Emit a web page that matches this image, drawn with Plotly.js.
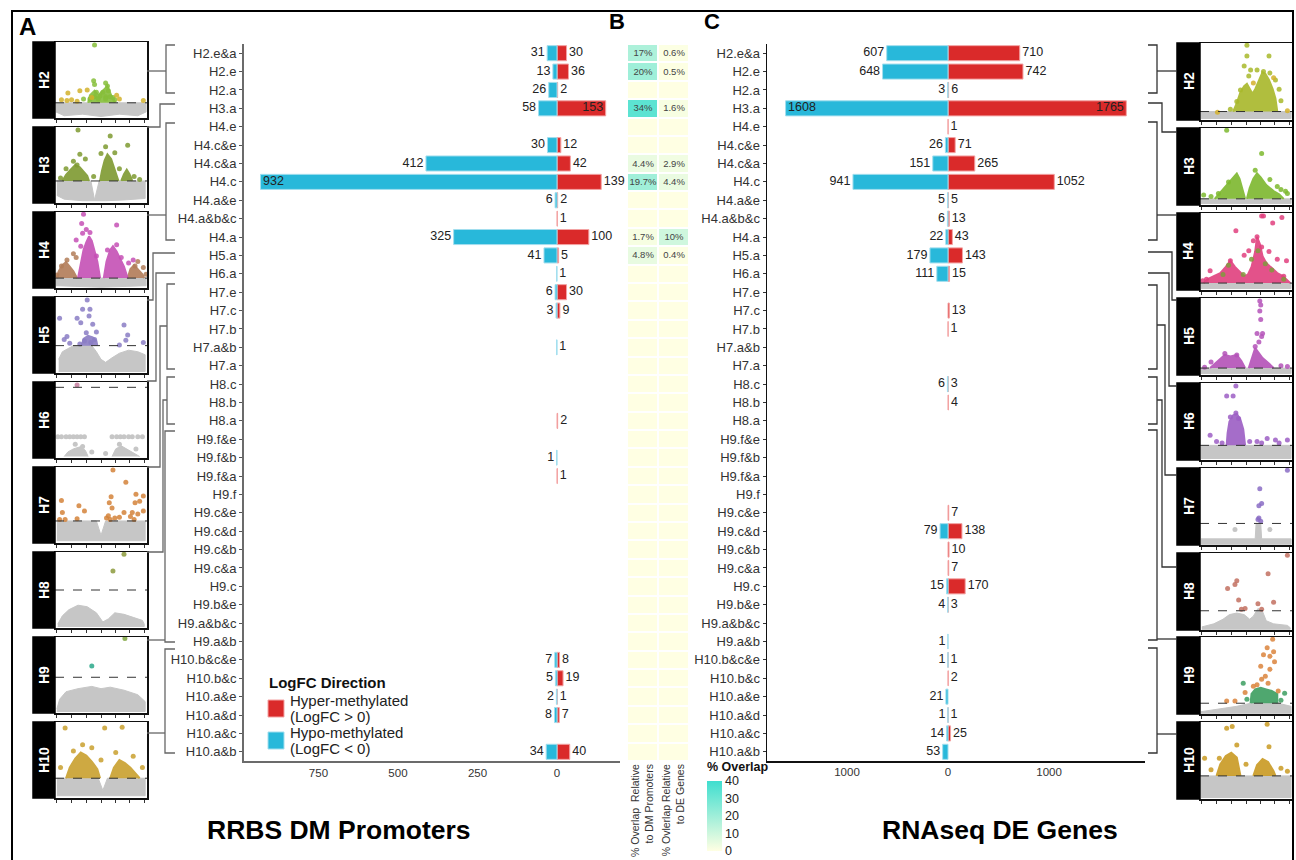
<!DOCTYPE html>
<html><head><meta charset="utf-8">
<script src="https://cdn.plot.ly/plotly-3.0.1.min.js"></script>
<style>html,body{margin:0;padding:0;background:#fff}#chart{width:1296px;height:860px}</style>
</head><body><div id="chart"></div>
<script>
// ---------------- DATA ----------------
const categories = ['H2.e&a','H2.e','H2.a','H3.a','H4.e','H4.c&e','H4.c&a','H4.c','H4.a&e','H4.a&b&c','H4.a',
  'H5.a','H6.a','H7.e','H7.c','H7.b','H7.a&b','H7.a','H8.c','H8.b','H8.a',
  'H9.f&e','H9.f&b','H9.f&a','H9.f','H9.c&e','H9.c&d','H9.c&b','H9.c&a','H9.c','H9.b&e','H9.a&b&c','H9.a&b',
  'H10.b&c&e','H10.b&c','H10.a&e','H10.a&d','H10.a&c','H10.a&b'];
// RRBS DM promoters (counts)
const dmHypo  = [31,13,26,58,0,30,412,932,6,0,325,41,1,6,3,0,1,0,0,0,0,0,1,0,0,0,0,0,0,0,0,0,0,7,5,2,8,0,34];
const dmHyper = [30,36,2,153,0,12,42,139,2,1,100,5,0,30,9,0,0,0,0,0,2,0,0,1,0,0,0,0,0,0,0,0,0,8,19,1,7,0,40];
// RNAseq DE genes (counts)
const deHypo  = [607,648,3,1608,0,26,151,941,5,6,22,179,111,0,0,0,0,0,6,0,0,0,0,0,0,0,79,0,0,15,4,0,1,1,0,21,1,14,53];
const deHyper = [710,742,6,1765,1,71,265,1052,5,13,43,143,15,0,13,1,0,0,3,4,0,0,0,0,0,7,138,10,7,170,3,0,0,1,2,0,1,25,0];
// % overlap
const overlapDM = [17,20,0,34,0,0,4.4,19.7,0,0,1.7,4.8,0,0,0,0,0,0,0,0,0,0,0,0,0,0,0,0,0,0,0,0,0,0,0,0,0,0,0];
const overlapDE = [0.6,0.5,0,1.6,0,0,2.9,4.4,0,0,10,0.4,0,0,0,0,0,0,0,0,0,0,0,0,0,0,0,0,0,0,0,0,0,0,0,0,0,0,0];
const heatColLabels = ['% Overlap  Relative<br>to DM Promoters','% Ovlerlap Relative<br>to DE Genes'];
const dmTicks = [-750,-500,-250,0];
const dmTickText = ['750','500','250','0'];
const deTicks = [-1000,0,1000];
const deTickText = ['1000','0','1000'];
const overlapTicks = [0,10,20,30,40];
const colorbarTitle = '% Overlap';
const legendTitle = 'LogFC Direction';
const legendHyper = ['Hyper-methylated','(LogFC &gt; 0)'];
const legendHypo  = ['Hypo-methylated','(LogFC &lt; 0)'];
const volcanoLabels = ['H2','H3','H4','H5','H6','H7','H8','H9','H10'];
const thrLeft  = [20,29,13,36,93,29,50,47,26];
const thrRight = [11,8,9,9,19,28,25,14,30];

// Volcano sketches (normalised 0-100 coords)
const L2_gray = [[1,20],[99,20],[99,8],[90,3],[70,5],[50,2],[30,5],[10,3],[1,8]];
const L2_mass = [[36,20],[38,30],[43,36],[47,30],[52,36],[57,42],[61,30],[65,22],[65,20]];
const L2_ptsA = [[43,96],[42,49],[43,44],[55,46],[57,42],[45,34],[52,34],[58,36],[49,29],[43,28],[55,28],[60,28],[47,25],[63,27],[38,25],[55,25],[65,24],[31,25]];
const L2_ptsB = [[14,33],[27,36],[35,37],[40,27],[7,24],[18,24],[96,23],[70,25],[67,30],[13,23],[24,22]];
const L3_gray = [[2,29],[39,29],[43,4],[48,29],[98,29],[98,6],[75,4],[55,3],[30,3],[10,5],[2,10]];
const L3_mass1 = [[8,29],[12,37],[17,44],[22,50],[27,47],[31,42],[35,36],[37,29]];
const L3_mass2 = [[49,29],[51,42],[54,56],[57,64],[61,58],[64,47],[67,36],[69,29]];
const L3_mass3 = [[72,29],[75,38],[78,44],[81,38],[84,29]];
const L3_pts = [[25,96],[60,88],[79,76],[27,64],[55,74],[65,66],[20,55],[33,58],[12,45],[6,33],[42,35],[70,45],[86,35],[92,31],[50,65],[24,50]];
const L4_gray = [[1,13],[99,13],[99,3],[50,1],[1,3]];
const L4_mass1 = [[25,13],[28,30],[31,50],[34,60],[37,68],[40,62],[43,50],[46,35],[49,13]];
const L4_mass2 = [[53,13],[56,35],[60,50],[63,55],[67,48],[71,38],[75,28],[79,13]];
const L4_massB1 = [[2,13],[4,22],[8,30],[12,34],[16,28],[20,22],[24,13]];
const L4_massB2 = [[79,13],[82,25],[86,30],[90,24],[95,18],[97,13]];
const L4_ptsA = [[31,97],[29,85],[67,83],[34,77],[23,63],[67,57],[85,37],[30,72],[38,73],[28,55],[57,50],[72,40],[80,33],[45,42]];
const L4_ptsB = [[13,37],[96,27],[7,29],[87,29],[23,40],[20,45],[90,35],[2,17],[99,18]];
const L5_gray = [[4,18],[8,28],[14,32],[20,36],[40,36],[45,28],[50,18],[55,14],[62,20],[70,26],[80,30],[90,28],[98,24],[98,2],[4,2]];
const L5_mass = [[29,36],[31,45],[36,49],[41,47],[45,42],[46,36]];
const L5_pts = [[35,96],[30,84],[38,84],[24,72],[37,75],[28,66],[41,64],[5,72],[34,53],[45,54],[13,48],[10,44],[16,39],[75,63],[79,50],[77,43],[70,37],[96,40],[32,42],[39,40],[43,44],[27,38]];
const L6_grayPts = [[3,28],[7,28],[12,28],[16,28],[20,28],[24,28],[28,28],[32,28],[62,28],[67,28],[71,28],[75,28],[80,28],[84,28],[90,28],[95,28],[30,15],[40,8],[70,18],[88,12],[22,18],[55,6]];
const L6_gray1 = [[10,2],[14,8],[20,12],[28,15],[33,10],[36,2]];
const L6_gray2 = [[62,2],[66,12],[72,16],[80,10],[86,6],[92,2]];
const L6_pts = [[24,96]];
const L7_gray = [[2,29],[45,29],[50,10],[55,29],[98,29],[98,3],[2,3]];
const L7_pts = [[63,96],[77,80],[88,64],[96,62],[61,61],[92,55],[7,56],[26,49],[59,53],[87,53],[32,42],[62,46],[75,40],[96,42],[8,40],[56,33],[65,33],[70,34],[82,35],[86,31],[5,31],[11,31],[24,32],[60,31],[58,36],[90,38],[84,40]];
const L8_gray = [[3,5],[8,16],[15,24],[25,30],[35,28],[45,20],[52,8],[58,12],[65,20],[75,18],[85,14],[95,10],[97,5],[97,2],[3,2]];
const L8_pts = [[75,97],[63,75]];
const L9_gray = [[2,5],[5,18],[12,28],[25,32],[40,35],[50,32],[60,34],[75,30],[90,24],[98,15],[98,2],[2,2]];
const L9_ptsA = [[40,62]];
const L9_ptsB = [[76,98]];
const L10_gray = [[2,26],[47,26],[52,10],[57,26],[98,26],[98,3],[2,3]];
const L10_mass1 = [[12,26],[16,40],[22,52],[28,60],[34,56],[40,48],[46,38],[49,26]];
const L10_mass2 = [[60,26],[64,40],[70,50],[76,46],[82,40],[88,32],[92,26]];
const L10_pts = [[54,92],[11,92],[73,93],[30,70],[40,66],[20,62],[66,60],[85,55],[6,40],[95,40],[50,50]];

const R2_gray = [[1,11],[99,11],[99,2],[1,2]];
const R2_mass = [[36,11],[40,22],[44,36],[48,44],[51,47],[54,40],[57,34],[60,40],[64,52],[68,62],[71,60],[75,52],[79,40],[82,28],[84,11]];
const R2_ptsA = [[51,97],[51,83],[75,83],[48,70],[55,65],[62,65],[69,63],[76,61],[82,52],[53,57],[44,39],[40,24],[86,40],[88,25],[33,14]];
const R2_ptsB = [[19,10],[95,12],[80,55],[58,48]];
const R3_gray = [[1,8],[99,8],[99,2],[1,2]];
const R3_mass1 = [[16,8],[22,16],[28,24],[33,32],[38,38],[40,41],[43,34],[46,22],[49,8]];
const R3_mass2 = [[51,8],[54,22],[58,34],[62,41],[66,36],[72,26],[80,18],[86,14],[91,8]];
const R3_pts = [[29,97],[67,67],[4,13],[20,15],[95,15],[84,24],[76,33],[12,11],[31,30],[60,45],[93,18],[88,20]];
const R4_gray = [[1,9],[99,9],[99,2],[1,2]];
const R4_mass = [[4,9],[8,14],[15,18],[22,22],[28,30],[33,38],[38,30],[44,22],[48,18],[52,20],[56,30],[60,50],[62,69],[65,60],[68,44],[72,35],[78,28],[84,22],[90,18],[96,12],[98,9]];
const R4_ptsA = [[67,96],[69,96],[89,94],[79,87],[39,77],[62,69],[67,56],[53,51],[33,38],[94,38],[11,25],[7,14],[91,18],[84,40],[75,50],[48,45],[58,64],[3,12]];
const R4_ptsB = [[31,32],[63,51],[71,34],[91,14],[47,20],[25,20],[78,26],[56,40]];
const R5_gray = [[1,9],[99,9],[99,2],[1,2]];
const R5_mass1 = [[11,9],[16,14],[22,20],[27,26],[33,24],[40,26],[45,18],[49,9]];
const R5_mass2 = [[53,9],[56,20],[60,35],[63,30],[68,22],[74,16],[80,9]];
const R5_pts = [[65,96],[66,91],[65,83],[66,72],[62,54],[68,54],[64,43],[60,37],[67,50],[27,28],[40,26],[12,17],[95,11],[5,10],[88,12]];
const R6_gray = [[1,19],[99,19],[99,2],[1,2]];
const R6_mass = [[29,19],[30,35],[32,50],[36,58],[40,60],[44,52],[47,40],[49,19]];
const R6_pts = [[39,61],[33,56],[42,54],[11,32],[18,24],[73,28],[82,26],[95,26],[67,22],[62,24],[29,83],[36,83],[39,96],[24,22],[86,22],[54,24]];
const R7_gray = [[1,8],[60,8],[61,28],[66,28],[67,8],[99,8],[99,1],[1,1]];
const R7_grayPts = [[38,20],[76,20]];
const R7_pts = [[65,73],[67,54],[64,51],[64,35],[63,33],[95,97],[66,31]];
const R8_gray = [[2,4],[15,8],[25,14],[32,20],[40,22],[48,20],[54,14],[58,18],[63,28],[68,24],[72,12],[80,8],[95,6],[98,3],[98,1],[2,1]];
const R8_pts = [[95,97],[74,73],[40,64],[38,59],[30,54],[80,36],[42,39],[63,34],[49,28],[67,27],[45,27]];
const R9_gray = [[1,3],[20,6],[40,10],[55,14],[85,14],[99,10],[99,1],[1,1]];
const R9_massB = [[55,14],[56,26],[60,32],[66,34],[72,32],[78,30],[84,26],[84,14]];
const R9_ptsA = [[79,97],[73,86],[80,81],[69,77],[76,75],[81,68],[66,62],[76,58],[71,49],[67,45],[58,36],[49,28],[29,17],[38,17],[62,38],[74,40],[85,30]];
const R9_ptsB = [[47,40],[92,27],[51,19],[88,18]];
const R10_gray = [[1,30],[99,30],[99,2],[1,2]];
const R10_mass1 = [[18,30],[22,45],[28,56],[34,60],[40,54],[44,30]];
const R10_mass2 = [[58,30],[62,44],[68,52],[74,48],[80,36],[82,30]];
const R10_pts = [[29,92],[35,94],[73,97],[40,70],[75,68],[5,53],[21,53],[50,45],[88,40],[12,38],[95,36]];

// ---------------- STYLE ----------------
const W=1296, H=860;
const px = x => x/W, py = y => 1 - y/H;
const RED='#DA2A2A', BLUE='#28B8DA', RED_EDGE='#F3A3A3', BLUE_EDGE='#A2DEEE';
const GRAY='#C6C6C6';
const FONT='Liberation Sans, Arial, Helvetica, sans-serif';
const TS='\u2009';
const A_hypoInside=['H4.c'], A_hyperInside=['H3.a'], A_hypoRight=['H6.a','H7.a&b'];
const C_hypoInside=['H3.a'], C_hyperInside=['H3.a'];

const leftPanels = [
  {gray:[L2_gray], masses:[[L2_mass,'#86BE3A']], pts:[[L2_ptsA,'#86BE3A'],[L2_ptsB,'#D2B22C']]},
  {gray:[L3_gray], masses:[[L3_mass1,'#7E9A30'],[L3_mass2,'#7E9A30'],[L3_mass3,'#7E9A30']], pts:[[L3_pts,'#7E9A30']]},
  {gray:[L4_gray], masses:[[L4_massB1,'#B27C58'],[L4_massB2,'#B27C58'],[L4_mass1,'#C550B5'],[L4_mass2,'#C550B5']], pts:[[L4_ptsB,'#B27C58'],[L4_ptsA,'#C550B5']]},
  {gray:[L5_gray], masses:[[L5_mass,'#8A7CC4']], pts:[[L5_pts,'#8A7CC4']]},
  {gray:[L6_gray1,L6_gray2], grayPts:L6_grayPts, masses:[], pts:[[L6_pts,'#C47C9E']]},
  {gray:[L7_gray], masses:[], pts:[[L7_pts,'#D3833A']]},
  {gray:[L8_gray], masses:[], pts:[[L8_pts,'#8C9A3C']]},
  {gray:[L9_gray], masses:[], pts:[[L9_ptsA,'#2AA88A'],[L9_ptsB,'#7FA640']]},
  {gray:[L10_gray], masses:[[L10_mass1,'#C9A02E'],[L10_mass2,'#C9A02E']], pts:[[L10_pts,'#C9A02E']]}
];
const rightPanels = [
  {gray:[R2_gray], masses:[[R2_mass,'#A8B82A']], pts:[[R2_ptsA,'#A8B82A'],[R2_ptsB,'#D4B02A']]},
  {gray:[R3_gray], masses:[[R3_mass1,'#7DB82E'],[R3_mass2,'#7DB82E']], pts:[[R3_pts,'#7DB82E']]},
  {gray:[R4_gray], masses:[[R4_mass,'#E0407E']], pts:[[R4_ptsA,'#E0407E'],[R4_ptsB,'#7F9A3C']]},
  {gray:[R5_gray], masses:[[R5_mass1,'#B452B8'],[R5_mass2,'#B452B8']], pts:[[R5_pts,'#B452B8']]},
  {gray:[R6_gray], masses:[[R6_mass,'#9C5EC4']], pts:[[R6_pts,'#9C5EC4']]},
  {gray:[R7_gray], grayPts:R7_grayPts, masses:[], pts:[[R7_pts,'#8A6CC4']]},
  {gray:[R8_gray], masses:[], pts:[[R8_pts,'#C27060']]},
  {gray:[R9_gray], masses:[[R9_massB,'#3C9E60']], pts:[[R9_ptsA,'#DA843C'],[R9_ptsB,'#3C9E60']]},
  {gray:[R10_gray], masses:[[R10_mass1,'#C99A22'],[R10_mass2,'#C99A22']], pts:[[R10_pts,'#C99A22']]}
];
const leftTops  = [42,127,212,297,382,467,552,637,722];
const rightTops = [43,128,213,298,383,468,553,637,722];

// ---------------- BUILD ----------------
const traces = [];
const layout = {
  width:W, height:H, margin:{l:0,r:0,t:0,b:0}, paper_bgcolor:'#fff', plot_bgcolor:'rgba(0,0,0,0)',
  font:{family:FONT, color:'#222'}, barmode:'overlay', showlegend:false,
  shapes:[], annotations:[]
};

function barPair(hypo, hyper, xa, ya) {
  traces.push({type:'bar', orientation:'h', y:categories, x:hyper.map(v=>v>0?v:null), width:0.82,
    marker:{color:RED, line:{color:RED_EDGE, width:1}}, xaxis:xa, yaxis:ya, hoverinfo:'skip', showlegend:false});
  traces.push({type:'bar', orientation:'h', y:categories, x:hypo.map(v=>v>0?-v:null), width:0.82,
    marker:{color:BLUE, line:{color:BLUE_EDGE, width:1}}, xaxis:xa, yaxis:ya, hoverinfo:'skip', showlegend:false});
}
function labels(hypo, hyper, xa, ya, hypoIn, hyperIn, hypoRight) {
  const hpos = categories.map(c => hypoIn.includes(c)||hypoRight.includes(c) ? 'middle right':'middle left');
  traces.push({type:'scatter', mode:'text', y:categories, x:hypo.map(v=>-v),
    text:hypo.map((v,i)=>v>0?(hpos[i]==='middle left'?String(v)+TS:TS+String(v)):''),
    textposition:hpos, textfont:{size:12.5, color:'#222'}, xaxis:xa, yaxis:ya, hoverinfo:'skip', showlegend:false, cliponaxis:false});
  const rpos = categories.map(c => hyperIn.includes(c) ? 'middle left':'middle right');
  traces.push({type:'scatter', mode:'text', y:categories, x:hyper,
    text:hyper.map((v,i)=>v>0?(rpos[i]==='middle right'?TS+String(v):String(v)+TS):''),
    textposition:rpos, textfont:{size:12.5, color:'#222'}, xaxis:xa, yaxis:ya, hoverinfo:'skip', showlegend:false, cliponaxis:false});
}
barPair(dmHypo, dmHyper, 'x', 'y');
barPair(deHypo, deHyper, 'x3', 'y3');
labels(dmHypo, dmHyper, 'x', 'y', A_hypoInside, A_hyperInside, A_hypoRight);
labels(deHypo, deHyper, 'x3', 'y3', C_hypoInside, C_hyperInside, []);

// heatmap
traces.push({type:'heatmap', x:[0,1], y:categories,
  z:categories.map((c,i)=>[overlapDM[i], overlapDE[i]]),
  text:categories.map((c,i)=>[overlapDM[i]>0?overlapDM[i]+'%':'', overlapDE[i]>0?overlapDE[i]+'%':'']),
  texttemplate:'%{text}', textfont:{size:9.5, color:'#444'},
  zmin:0, zmax:40, colorscale:[[0,'#FFFFE3'],[1,'#3FDECF']], xgap:2, ygap:2,
  xaxis:'x2', yaxis:'y2', hoverinfo:'skip', showlegend:false,
  colorbar:{thickness:15, thicknessmode:'pixels', len:70, lenmode:'pixels',
    x:px(707), xanchor:'left', y:py(851), yanchor:'bottom', xpad:0, ypad:0,
    outlinewidth:0, ticks:'', tickmode:'array', tickvals:overlapTicks, ticklabeloverflow:'allow',
    tickfont:{size:12.5, color:'#222'}}});

const yDom = [py(761), py(44)];
const catAxis = extra => Object.assign({domain:yDom, type:'category', categoryorder:'array', categoryarray:categories,
  range:[38.5,-0.5], showgrid:false, zeroline:false, automargin:false, fixedrange:true}, extra);
layout.xaxis = {domain:[px(244),px(620)], range:[-984,198], anchor:'y', showline:true, linecolor:'#6b6b6b', linewidth:2,
  showgrid:false, zeroline:false, tickvals:dmTicks, ticktext:dmTickText, ticks:'', tickfont:{size:11.5,color:'#333'}, automargin:false, fixedrange:true};
layout.yaxis = catAxis({anchor:'x', showline:true, linecolor:'#6b6b6b', linewidth:2, ticks:'outside', ticklen:3, tickcolor:'#555', tickfont:{size:13,color:'#333'}});
layout.xaxis2 = {domain:[px(627),px(689)], range:[-0.5,1.5], anchor:'y2', showline:false, showgrid:false, zeroline:false,
  tickvals:[0,1], ticktext:heatColLabels, tickangle:-90, ticks:'', tickfont:{size:10.5,color:'#333'}, automargin:false, fixedrange:true, ticklabeloverflow:'allow'};
layout.yaxis2 = catAxis({anchor:'x2', showline:false, ticks:'', showticklabels:false});
layout.xaxis3 = {domain:[px(767),px(1145)], range:[-1792,1950], anchor:'y3', showline:true, linecolor:'#111', linewidth:1.5,
  showgrid:false, zeroline:false, tickvals:deTicks, ticktext:deTickText, ticks:'', tickfont:{size:11.5,color:'#333'}, automargin:false, fixedrange:true};
layout.yaxis3 = catAxis({anchor:'x3', showline:true, linecolor:'#111', linewidth:1.5, ticks:'outside', ticklen:3, tickcolor:'#333', tickfont:{size:13,color:'#333'}});

// volcano panels
function volcano(k, p, thr, x0, x1, top, h, stripX0) {
  const n = 4 + k, xa = 'x'+n, ya = 'y'+n;
  const common = {xaxis:xa, yaxis:ya, hoverinfo:'skip', showlegend:false};
  p.gray.forEach(g => traces.push(Object.assign({type:'scatter', mode:'lines', x:g.map(q=>q[0]), y:g.map(q=>q[1]),
    fill:'toself', fillcolor:GRAY, line:{color:GRAY, width:1}}, common)));
  if (p.grayPts) traces.push(Object.assign({type:'scatter', mode:'markers', x:p.grayPts.map(q=>q[0]), y:p.grayPts.map(q=>q[1]),
    marker:{size:5, color:GRAY}}, common));
  p.masses.forEach(m => traces.push(Object.assign({type:'scatter', mode:'lines', x:m[0].map(q=>q[0]), y:m[0].map(q=>q[1]),
    fill:'toself', fillcolor:m[1], line:{color:m[1], width:2}, opacity:0.9}, common)));
  p.pts.forEach(m => traces.push(Object.assign({type:'scatter', mode:'markers', x:m[0].map(q=>q[0]), y:m[0].map(q=>q[1]),
    marker:{size:5, color:m[1], opacity:0.85}}, common)));
  traces.push(Object.assign({type:'scatter', mode:'lines', x:[0,100], y:[thr,thr], line:{color:'#333', width:1, dash:'dash'}}, common));
  layout['xaxis'+n] = {domain:[px(x0),px(x1)], range:[0,100], anchor:ya, showline:true, mirror:true, linecolor:'#111', linewidth:1.5,
    showgrid:false, zeroline:false, ticks:'outside', ticklen:3, tickcolor:'#333', tickvals:[2,18,34,50,66,81,97], showticklabels:false, automargin:false, fixedrange:true};
  layout['yaxis'+n] = {domain:[py(top+h),py(top)], range:[0,100], anchor:xa, showline:true, mirror:true, linecolor:'#111', linewidth:1.5,
    showgrid:false, zeroline:false, ticks:'', showticklabels:false, automargin:false, fixedrange:true};
  layout.shapes.push({type:'rect', xref:'paper', yref:'paper', x0:px(stripX0), x1:px(x0), y0:py(top), y1:py(top+h),
    fillcolor:'#000', line:{color:'#000', width:1.5}});
  layout.annotations.push({xref:'paper', yref:'paper', x:px((stripX0+x0)/2), y:py(top+h/2), text:'<b>'+volcanoLabels[k%9]+'</b>',
    textangle:-90, showarrow:false, font:{size:14, color:'#fff'}, xanchor:'center', yanchor:'middle'});
}
leftPanels.forEach((p,i)=>volcano(i, p, thrLeft[i], 55, 147, leftTops[i], 76, 33));
rightPanels.forEach((p,i)=>volcano(9+i, p, thrRight[i], 1200, 1292, rightTops[i], 77, 1177));

// dendrogram brackets (decoration)
const bracketsL = [
 [[175,45],[166,45],[166,93],[175,93]], [[147,71],[166,71]],
 [[147,127],[160,127],[160,104],[175,104]],
 [[175,123],[166,123],[166,240],[175,240]], [[147,215],[166,215]],
 [[175,253],[153,253],[153,300],[147,300]],
 [[175,273],[156,273],[156,381],[147,381]],
 [[175,284],[167,284],[167,369],[175,369]], [[167,326],[160,326],[160,467],[147,467]],
 [[175,377],[167,377],[167,424],[175,424]], [[167,400],[163,400],[163,552],[147,552]],
 [[175,431],[165,431],[165,642],[175,642]], [[165,640],[147,640]],
 [[175,649],[165,649],[165,753],[175,753]], [[165,733],[147,733]]
];
const bracketsR = [
 [[1148,45],[1157,45],[1157,93],[1148,93]], [[1157,71],[1177,71]],
 [[1148,103],[1162,103],[1162,132],[1177,132]],
 [[1148,122],[1157,122],[1157,240],[1148,240]], [[1157,215],[1177,215]],
 [[1148,252],[1172,252],[1172,300],[1177,300]],
 [[1148,273],[1169,273],[1169,386],[1177,386]],
 [[1148,285],[1157,285],[1157,369],[1148,369]], [[1157,325],[1165,325],[1165,475],[1177,475]],
 [[1148,377],[1157,377],[1157,424],[1148,424]], [[1157,400],[1162,400],[1162,567],[1177,567]],
 [[1148,430],[1157,430],[1157,640],[1148,640]], [[1157,639],[1177,639]],
 [[1148,648],[1157,648],[1157,753],[1148,753]], [[1157,734],[1177,734]]
];
function pathOf(pts){ return pts.map((q,i)=>(i?'L':'M')+px(q[0]).toFixed(5)+','+py(q[1]).toFixed(5)).join(' '); }
bracketsL.forEach(b=>layout.shapes.push({type:'path', xref:'paper', yref:'paper', path:pathOf(b), line:{color:'#666', width:1.3}}));
bracketsR.forEach(b=>layout.shapes.push({type:'path', xref:'paper', yref:'paper', path:pathOf(b), line:{color:'#333', width:1.3}}));

// outer frame
layout.shapes.push({type:'rect', xref:'paper', yref:'paper', x0:px(12), x1:px(1293), y0:py(11), y1:py(880), line:{color:'#000', width:2}, fillcolor:'rgba(0,0,0,0)'});

// titles / panel letters
const ann = (x,y,t,size,extra) => layout.annotations.push(Object.assign({xref:'paper', yref:'paper', x:px(x), y:py(y), text:t,
  showarrow:false, font:{size:size, color:'#000'}, xanchor:'center', yanchor:'middle'}, extra||{}));
ann(27,27,'<b>A</b>',24);
ann(617,22,'<b>B</b>',22);
ann(712,22,'<b>C</b>',22);
ann(339,830,'<b>RRBS DM Promoters</b>',26.5);
ann(1000,830,'<b>RNAseq DE Genes</b>',26.5);
ann(705,767,'<b>'+colorbarTitle+'</b>',12.5,{xanchor:'left', font:{size:12.5,color:'#111'}});

// legend (drawn manually for exact layout)
ann(267,682,'<b>'+legendTitle+'</b>',15,{xanchor:'left', font:{size:15,color:'#111'}});
layout.shapes.push({type:'rect', xref:'paper', yref:'paper', x0:px(268), x1:px(284), y0:py(700), y1:py(717), fillcolor:RED, line:{color:RED_EDGE, width:1}});
layout.shapes.push({type:'rect', xref:'paper', yref:'paper', x0:px(268), x1:px(284), y0:py(732), y1:py(749), fillcolor:BLUE, line:{color:BLUE_EDGE, width:1}});
ann(288,700,legendHyper[0],15,{xanchor:'left', font:{size:15,color:'#222'}});
ann(288,716,legendHyper[1],15,{xanchor:'left', font:{size:15,color:'#222'}});
ann(288,732,legendHypo[0],15,{xanchor:'left', font:{size:15,color:'#222'}});
ann(288,748,legendHypo[1],15,{xanchor:'left', font:{size:15,color:'#222'}});

Plotly.newPlot('chart', traces, layout, {staticPlot:true, displayModeBar:false});
</script>
</body></html>
